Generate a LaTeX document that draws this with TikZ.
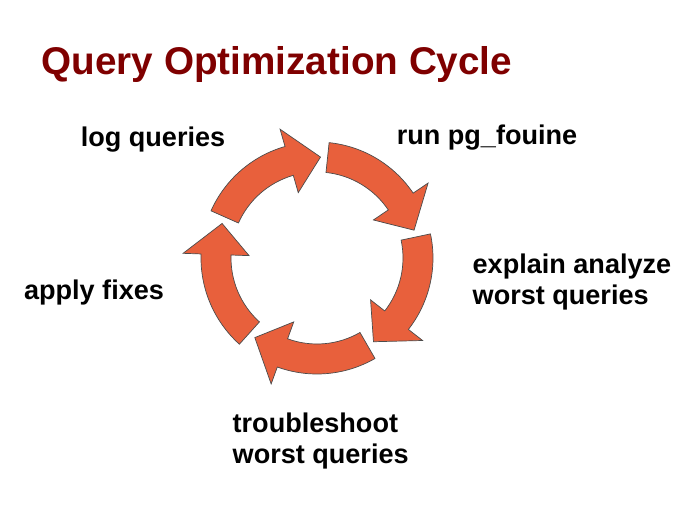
\documentclass[tikz,border=0pt]{standalone}
\usepackage{fontspec}
\setmainfont{Liberation Sans}
\usepackage{tikz}
\definecolor{cycleorange}{HTML}{E8603C}
\definecolor{titlered}{HTML}{7F0000}
\tikzset{
  label/.style={font=\bfseries\fontsize{7.7}{9}\selectfont, align=left, inner sep=0pt},
  cyclearrow/.style={fill=cycleorange, draw=black!70, line width=0.2pt}
}
\begin{document}
\begin{tikzpicture}
\useasboundingbox (0,0) rectangle (6.8,5.1);
% title
\node[anchor=west, inner sep=0pt, text=titlered, font=\bfseries\fontsize{11}{13}\selectfont] (title) at (0.41,4.45) {Query Optimization Cycle};
% arrows of the cycle
\begin{scope}[shift={(3.17,2.52)}]
\foreach \s in {156,84,12,-60,-132}
{
  \pgfmathsetmacro{\e}{\s-50}
  \pgfmathsetmacro{\t}{\s-68}
  \draw[cyclearrow] (\s:1.16) arc[start angle=\s, end angle=\e, radius=1.16]
    -- (\e:1.34) -- (\t:1.01) -- (\e:0.68) -- (\e:0.86)
    arc[start angle=\e, end angle=\s, radius=0.86] -- cycle;
}
\end{scope}
% steps
\node[label] (log) at (1.53,3.7) {log queries};
\node[label] (run) at (4.87,3.72) {run pg\_fouine};
\node[label, anchor=west] (explain) at (4.72,2.28) {explain analyze\\worst queries};
\node[label] (fixes) at (0.94,2.18) {apply fixes};
\node[label, anchor=west] (trouble) at (2.32,0.69) {troubleshoot\\worst queries};
\end{tikzpicture}
\end{document}
